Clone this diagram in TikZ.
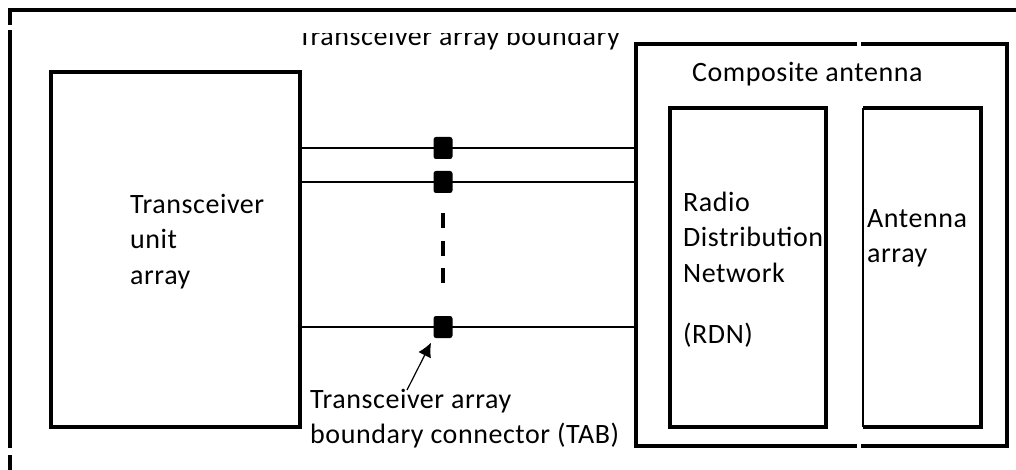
\documentclass[tikz,border=0pt]{standalone}
\usepackage{fontspec}
\setmainfont{Carlito}[LetterSpace=2]
\usetikzlibrary{positioning,arrows.meta,calc}

\tikzset{
  box/.style={rectangle, draw, line width=4pt, outer sep=0pt, inner sep=0pt, anchor=north west},
  lbl/.style={align=left, inner sep=0pt, anchor=north west, font=\fontsize{28}{35.5}\selectfont},
  tabbox/.style={rectangle, fill=black, rounded corners=2.5pt, minimum width=19pt, minimum height=22pt, inner sep=0pt},
  wire/.style={line width=1.2pt},
  heavy/.style={line width=4pt}
}

\begin{document}
\begin{tikzpicture}[x=1pt,y=-1pt]
        \useasboundingbox (0,0) rectangle (1016,470);
        % transceiver array boundary
        \coordinate (bnw) at (10,10);
        \draw[heavy] (1016,10) -- (bnw) -- ++(0,15);
        \draw[heavy] (10,30) -- (10,448);
        \draw[heavy] (10,455) -- (10,470);
        \begin{scope}
            \clip (280,34) rectangle (640,60);
            \node[lbl, anchor=base west] (bndlbl) at (298,46) {Transceiver array boundary};
        \end{scope}

        % boxes
        \node[box, minimum width=249pt, minimum height=355pt] (tua) at (51,72) {};
        \node[box, draw=none, minimum width=371pt, minimum height=402pt] (comp) at (636,44) {};
        \node[box, minimum width=156pt, minimum height=319pt] (rdn) at (670,108) {};
        \node[box, draw=none, minimum width=118pt, minimum height=319pt] (antarr) at (863,108) {};

        \coordinate (gap) at (antarr.west |- comp.north);
        \draw[heavy] ($(gap)+(-6,0)$) -- (comp.north west) -- (comp.south west) -- ($(gap |- comp.south)+(-6,0)$);
        \draw[heavy] ($(gap)+(-2,0)$) -- (comp.north east) -- (comp.south east) -- ($(gap |- comp.south)+(-2,0)$);
        \draw[heavy] (antarr.north west) -- (antarr.north east) -- (antarr.south east) -- (antarr.south west);
        \draw[wire] (antarr.north west) -- (antarr.south west);

        % connectors
        \node[tabbox] (tab1) at (443,148) {};
        \node[tabbox] (tab2) at (443,182) {};
        \node[tabbox] (tab3) at (443,327) {};
        \foreach \t in {tab1,tab2,tab3}
            \draw[wire] (\t -| tua.east) -- (\t -| comp.west);
        \draw[heavy, dash pattern=on 15pt off 12.5pt, shorten <=20pt, shorten >=33pt] (tab2.south) -- (tab3.north);

        % labels
        \node[lbl] (tualbl) at (130,191) {\rule{0pt}{22pt}Transceiver\\unit\\array};
        \node[lbl] (rdnlbl) at (683,189) {\rule{0pt}{22pt}Radio\\Distribution\\Network\\[25.5pt](RDN)};
        \node[lbl] (antlbl) at (867,205) {\rule{0pt}{22pt}Antenna\\array};
        \node[lbl, anchor=base west] (complbl) at (692,82) {Composite antenna};
        \node[lbl] (tablbl) at (310,386) {\rule{0pt}{22pt}Transceiver array\\boundary connector (TAB)};

        \coordinate (tabtail) at (407,390);
        \draw[wire, -{Latex[length=14pt,width=14pt]}, shorten >=5pt] (tabtail) -- (tab3.south west);
\end{tikzpicture}
\end{document}
